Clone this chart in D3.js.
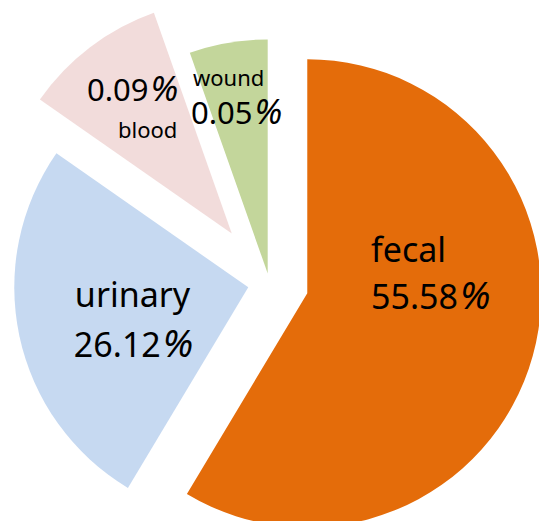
<!DOCTYPE html>
<html>
<head>
<meta charset="utf-8">
<script src="https://cdn.jsdelivr.net/npm/d3@7"></script>
<style>
  html, body { margin: 0; padding: 0; background: #fff; }
  svg { display: block; }
  text { font-family: "Noto Sans", "Open Sans", sans-serif; fill: #000; }
</style>
</head>
<body>
<div id="chart"></div>
<script>
// slice sizes as drawn (share of the circle, %)
const categories = ["fecal", "urinary", "blood", "wound"];
const shares = [58.6, 26.1, 9.9, 5.4];
// percentages printed in the labels
const labelPercents = [55.58, 26.12, 0.09, 0.05];

const colors = ["#E46C0A", "#C6D9F1", "#F2DCDB", "#C3D69B"];

const width = 539;
const height = 521;
const center = [269.3, 282.8];
const radius = 234;
// how far each slice is pulled out from the centre
const explode = [39.4, 21.5, 62, 9.5];

// label lines per slice, offset from the slice centroid
const labelLines = [
  [{ field: "name", size: 34, dx: -49, dy: -63 }, { field: "value", size: 34, dx: -49, dy: -16 }],
  [{ field: "name", size: 34, dx: -59, dy: -5 }, { field: "value", size: 34, dx: -60, dy: 45 }],
  [{ field: "value", size: 31, dx: -74, dy: -39 }, { field: "name", size: 22, dx: -43, dy: -2 }],
  [{ field: "name", size: 22, dx: -55, dy: -72 }, { field: "value", size: 31, dx: -57, dy: -34 }]
];

const rows = categories.map((name, i) => ({
  name,
  share: shares[i],
  percent: labelPercents[i],
  color: colors[i],
  explode: explode[i],
  lines: labelLines[i]
}));

const pie = d3.pie().sort(null).value((d) => d.share);
const arc = d3.arc().innerRadius(0).outerRadius(radius);

const svg = d3.select("#chart")
  .append("svg")
  .attr("width", width)
  .attr("height", height);

const g = svg.append("g").attr("transform", `translate(${center[0]},${center[1]})`);

const slice = g.selectAll("g.slice")
  .data(pie(rows))
  .join("g")
  .attr("class", "slice")
  .attr("transform", (d) => {
    const mid = (d.startAngle + d.endAngle) / 2;
    const dist = d.data.explode;
    return `translate(${Math.sin(mid) * dist},${-Math.cos(mid) * dist})`;
  });

slice.append("path")
  .attr("d", arc)
  .attr("fill", (d) => d.data.color);

slice.each(function (d) {
  const [cx, cy] = arc.centroid(d);
  const sel = d3.select(this);
  d.data.lines.forEach((line) => {
    const t = sel.append("text")
      .attr("x", cx + line.dx)
      .attr("y", cy + line.dy)
      .attr("font-size", line.size);
    if (line.field === "name") {
      t.text(d.data.name);
    } else {
      t.append("tspan").text(d.data.percent.toFixed(2));
      t.append("tspan")
        .attr("font-style", "italic")
        .attr("font-size", line.size * 1.12)
        .attr("dx", 2)
        .text("%");
    }
  });
});
</script>
</body>
</html>
